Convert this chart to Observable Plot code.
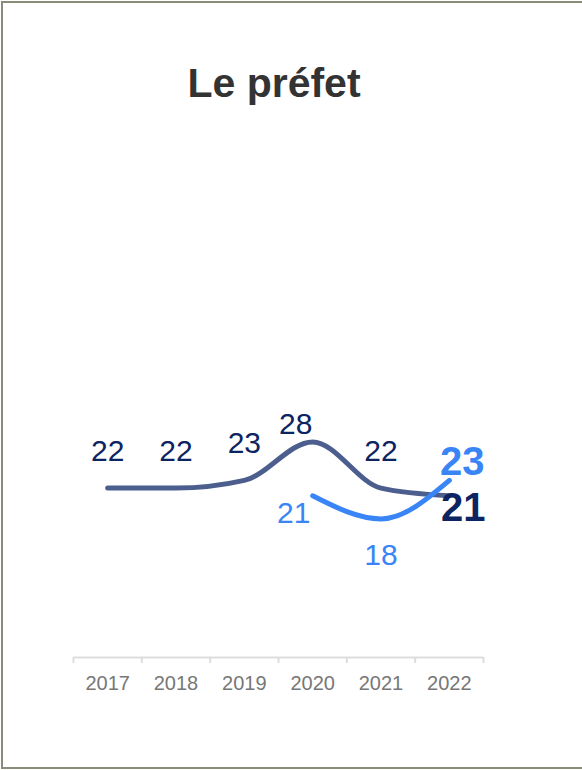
<!DOCTYPE html>
<html>
<head>
<meta charset="utf-8">
<script src="https://cdn.jsdelivr.net/npm/d3@7"></script>
<script src="https://cdn.jsdelivr.net/npm/@observablehq/plot@0.6"></script>
<style>
  html, body { margin: 0; padding: 0; background: #fff; overflow: hidden; }
  #page { position: relative; width: 582px; height: 770px; overflow: hidden; }
  #box { position: absolute; left: 1px; top: 1px; width: 700px; height: 768px; box-sizing: border-box; border: 2px solid #8b8b79; border-right: 0; }
  #title { position: absolute; left: 0; top: 63px; width: 548px; text-align: center; font: bold 41px/1 "Liberation Sans", Arial, sans-serif; color: #333; }
  #chart { position: absolute; left: 0; top: 0; }
</style>
</head>
<body>
<div id="page">
  <div id="box"></div>
  <div id="title">Le préfet</div>
  <div id="chart"></div>
</div>
<script>
const years = [2017, 2018, 2019, 2020, 2021, 2022];
const darkValues = [22, 22, 23, 28, 22, 21];
const lightYears = [2020, 2021, 2022];
const lightValues = [21, 18, 23];

const dark = years.map((year, i) => ({year, value: darkValues[i]}));
const light = lightYears.map((year, i) => ({year, value: lightValues[i]}));
const edges = [...years.map(y => y - 0.5), years[years.length - 1] + 0.5];
const lastYear = years[years.length - 1];

const DARK_LINE = "#4b5e8d";
const DARK_TEXT = "#0c2461";
const LIGHT = "#3a85f6";

const chart = Plot.plot({
  width: 582,
  height: 770,
  marginLeft: 73,
  marginRight: 99,
  marginTop: 195,
  marginBottom: 113,
  style: {fontFamily: "'Liberation Sans', Arial, sans-serif", background: "transparent"},
  x: {domain: [edges[0], edges[edges.length - 1]], label: null},
  y: {domain: [0, 60], axis: null, label: null},
  marks: [
    Plot.ruleY([0], {stroke: "#dddddd", strokeWidth: 2}),
    Plot.axisX({ticks: edges, tickSize: 6, tickFormat: () => "", label: null, stroke: "#dddddd", strokeWidth: 2}),
    Plot.axisX({ticks: years, tickSize: 0, tickPadding: 18, tickFormat: d => String(d), label: null, fontSize: 20, fill: "#777777"}),
    Plot.lineY(dark, {x: "year", y: "value", curve: "monotone-x", stroke: DARK_LINE, strokeWidth: 5, strokeLinecap: "round"}),
    Plot.lineY(light, {x: "year", y: "value", curve: "monotone-x", stroke: LIGHT, strokeWidth: 5, strokeLinecap: "round"}),
    Plot.text(dark, {filter: d => d.year !== 2020 && d.year !== lastYear, x: "year", y: "value", text: d => String(d.value), dy: -37, fontSize: 30, fill: DARK_TEXT}),
    Plot.text(dark, {filter: d => d.year === 2020, x: "year", y: "value", text: d => String(d.value), dx: -17, dy: -18, fontSize: 30, fill: DARK_TEXT}),
    Plot.text(dark, {filter: d => d.year === lastYear, x: "year", y: "value", text: d => String(d.value), dx: 14, dy: 12, fontSize: 40, fontWeight: "bold", fill: DARK_TEXT}),
    Plot.text(light, {filter: d => d.year === 2020, x: "year", y: "value", text: d => String(d.value), dx: -19, dy: 18, fontSize: 30, fill: LIGHT}),
    Plot.text(light, {filter: d => d.year === 2021, x: "year", y: "value", text: d => String(d.value), dy: 36, fontSize: 30, fill: LIGHT}),
    Plot.text(light, {filter: d => d.year === lastYear, x: "year", y: "value", text: d => String(d.value), dx: 13, dy: -18, fontSize: 40, fontWeight: "bold", fill: LIGHT})
  ]
});
document.getElementById("chart").appendChild(chart);
</script>
</body>
</html>
